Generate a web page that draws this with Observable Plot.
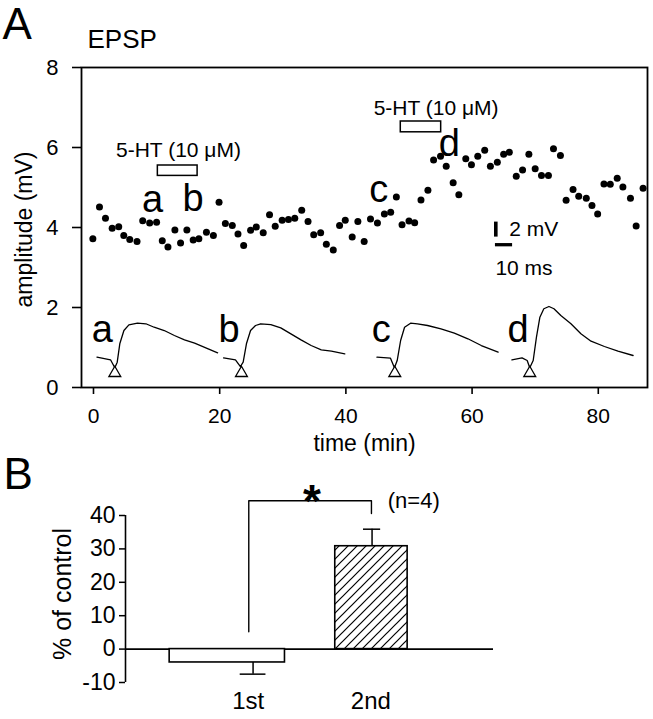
<!DOCTYPE html>
<html>
<head>
<meta charset="utf-8">
<script src="https://cdn.jsdelivr.net/npm/d3@7"></script>
<script src="https://cdn.jsdelivr.net/npm/@observablehq/plot@0.6"></script>
<style>
html, body { margin: 0; padding: 0; background: #fff; }
#chart { position: relative; width: 653px; height: 719px; overflow: hidden; background: #fff; }
#chart svg { display: block; overflow: visible; position: absolute; left: 0; }
</style>
</head>
<body>
<div id="chart"></div>
<script>
// ---------------- DATA ----------------
// Panel A: EPSP amplitude (mV) vs time (min)
const times = [-0.1, 0.95, 1.9, 2.96, 4.0, 4.8, 5.75, 6.9, 7.8, 8.9, 10.0, 10.9, 11.8, 12.9, 13.8, 14.8, 15.8, 16.7, 17.9, 19.0,
  19.9, 20.9, 22.0, 22.9, 23.8, 24.9, 25.8, 26.9, 27.9, 28.8, 29.9, 30.9, 31.9, 33.0, 34.0, 34.9, 36.0, 36.9, 38.0, 39.0,
  39.9, 41.0, 41.9, 42.9, 43.9, 45.0, 46.1, 47.1, 48.0, 48.9, 50.0, 50.9, 51.9, 53.0, 53.9, 55.0, 55.9, 57.0, 57.9, 59.0,
  59.9, 60.9, 62.0, 62.9, 64.0, 65.0, 65.9, 67.0, 68.0, 69.0, 70.0, 71.0, 72.1, 72.9, 74.0, 74.9, 76.0, 76.9, 78.1, 79.0,
  79.9, 80.9, 81.9, 83.0, 83.9, 85.1, 86.0, 87.1];
const amplitudes = [3.72, 4.51, 4.23, 3.98, 4.02, 3.80, 3.70, 3.65, 4.17, 4.11, 4.13, 3.67, 3.51, 3.94, 3.61, 3.94, 3.69, 3.72, 3.88, 3.80,
  4.63, 4.10, 4.05, 3.84, 3.55, 3.93, 4.01, 3.87, 4.32, 4.03, 4.18, 4.20, 4.23, 4.43, 4.15, 3.82, 3.87, 3.58, 3.44, 4.05,
  4.18, 3.76, 4.15, 3.65, 4.21, 4.11, 4.34, 4.38, 4.76, 4.07, 4.16, 4.12, 4.69, 4.93, 5.69, 5.78, 5.53, 5.12, 4.82, 5.72,
  5.57, 5.78, 5.93, 5.53, 5.63, 5.83, 5.88, 5.28, 5.44, 5.83, 5.47, 5.30, 5.30, 5.97, 5.80, 4.68, 4.95, 4.78, 4.73, 4.55,
  4.34, 5.09, 5.08, 5.23, 5.01, 4.73, 4.04, 4.98];
const xTicksA = [0, 20, 40, 60, 80];
const yTicksA = [0, 2, 4, 6, 8];
const drugName = "5-HT (10 \u03BCM)";
const drugStart = [10.2, 48.7];
const drugEnd = [16.5, 55.1];
const sampleIds = ["a", "b", "c", "d"];
const scaleBarMs = 10;
const scaleBarMv = 2;
const scaleBarLabels = ["2 mV", "10 ms"];
// Sample EPSP traces (ms from stimulus, mV from baseline)
const traceA_ms = [-10.4, -2.5, 0, 1.4, 2.9, 5.3, 8.2, 13.2, 18.1, 22.9, 28.8, 34.7, 40.6, 46.5, 54.4, 59.9];
const traceA_mv = [0.17, -0.17, -1.24, -0.49, 1.96, 3.73, 4.49, 4.71, 4.63, 4.17, 3.73, 3.07, 2.49, 2.04, 1.29, 0.76];
const traceB_ms = [-10.4, -3.5, -0.6, 1.0, 2.9, 5.3, 8.2, 11.2, 17.1, 22.9, 28.8, 34.7, 40.6, 46.5, 52.4, 60.2];
const traceB_mv = [0.09, -0.17, -1.07, -0.49, 1.96, 3.73, 4.40, 4.63, 4.53, 4.09, 3.29, 2.49, 1.73, 1.16, 0.97, 0.63];
const traceC_ms = [-10.4, -2.5, -0.2, 1.4, 3.4, 5.7, 9.2, 13.2, 19.1, 26.9, 34.7, 42.6, 50.4, 60.2];
const traceC_mv = [0.17, 0.04, -1.24, -0.27, 2.40, 4.17, 4.71, 4.63, 4.40, 3.96, 3.37, 2.63, 1.73, 0.84];
const traceD_ms = [-10.4, -4.5, -1.5, 0, 2.0, 3.9, 5.9, 8.2, 11.2, 14.1, 18.1, 24.0, 29.8, 35.7, 43.5, 51.4, 60.2];
const traceD_mv = [-0.17, 0.09, -0.27, -1.24, -0.27, 2.84, 5.51, 6.63, 6.93, 6.63, 5.73, 4.63, 3.29, 2.31, 1.60, 0.97, 0.40];

// Panel B: % of control
const groups = ["1st", "2nd"];
const pctMean = [-4.0, 30.8];
const pctSem = [3.5, 5.1];
const yTicksB = [-10, 0, 10, 20, 30, 40];
const sigMark = "*";
const nLabel = "(n=4)";

// ---------------- LAYOUT (positions / sizes / styles) ----------------
const FONT = "'Liberation Sans', Arial, Helvetica, sans-serif";
const LAY = {
  drugY: [[5.29, 5.55], [6.38, 6.65]],
  drugText: [[13.47, 5.93], [54.3, 6.99]],
  pointLetters: [[9.35, 4.40], [15.8, 4.42], [45.2, 4.63], [56.4, 5.80]],
  traceLetterX: [1.38, 21.5, 45.6, 67.3],
  traceLetterY: 1.13,
  stimAt: [3.38, 23.45, 47.75, 69.14],
  traceBase: 0.725,
  triangleY: 0.36,
  bar: { vx: 63.76, vy1: 3.76, hx1: 63.7, hy: 3.57, lenMin: 2.72, lenMv: 0.375 },
  barText: [[65.9, 3.95], [63.7, 2.98]],
  yLabelA: [-10.9, 3.95],
  // panel B
  catX: [1, 2],
  barX: [[0.36, 1.30], [1.71, 2.30]],
  errX: [1.04, 2.01],
  capHalf: [0.105, 0.07],
  barFill: ["white", "url(#hatchB)"],
  bracket: [[1.005, 5.2], [1.005, 44.4], [2.005, 44.4], [2.005, 40.6]],
  sig: [1.52, 44.0],
  n: [2.35, 44.3],
  yLabelB: [-0.51, 16.5]
};

// ---------------- PANEL A ----------------
const pts = times.map((t, i) => ({ t, amp: amplitudes[i] }));
const traceSets = [[traceA_ms, traceA_mv], [traceB_ms, traceB_mv], [traceC_ms, traceC_mv], [traceD_ms, traceD_mv]];
const minPerMs = LAY.bar.lenMin / scaleBarMs;
const chartPerMv = LAY.bar.lenMv / scaleBarMv;
const traceRows = traceSets.flatMap(([ms, mv], k) => ms.map((m, i) => ({
  id: sampleIds[k],
  t: LAY.stimAt[k] + m * minPerMs,
  amp: LAY.traceBase + mv[i] * chartPerMv
})));
const drugs = drugStart.map((s, i) => ({
  s, e: drugEnd[i], y1: LAY.drugY[i][0], y2: LAY.drugY[i][1], tx: LAY.drugText[i][0], ty: LAY.drugText[i][1]
}));

const svgA = Plot.plot({
  width: 653, height: 462,
  marginLeft: 81, marginRight: 6, marginTop: 67, marginBottom: 75,
  x: { domain: [-1.9, 87.8] },
  y: { domain: [0, 8] },
  style: { fontFamily: FONT, fontSize: "22px", color: "black", background: "transparent", overflow: "visible" },
  marks: [
    Plot.frame({ stroke: "black", strokeWidth: 1.8 }),
    Plot.axisY({ ticks: yTicksA, tickSize: 9, tickPadding: 14, strokeWidth: 1.6, label: null, fontSize: 22, tickFormat: d => String(d) }),
    Plot.axisX({ ticks: xTicksA, tickSize: 7, tickPadding: 14, strokeWidth: 1.6, label: null, fontSize: 21, tickFormat: d => String(d) }),
    Plot.dot(pts, { x: "t", y: "amp", r: 3.5, fill: "black" }),
    Plot.rect(drugs, { x1: "s", x2: "e", y1: "y1", y2: "y2", fill: "white", stroke: "black", strokeWidth: 1.5 }),
    Plot.text(drugs, { x: "tx", y: "ty", text: () => drugName, fontSize: 21 }),
    Plot.text(sampleIds, { x: (d, i) => LAY.pointLetters[i][0], y: (d, i) => LAY.pointLetters[i][1], text: d => d, fontSize: 38, lineAnchor: "bottom" }),
    Plot.line(traceRows, { x: "t", y: "amp", z: "id", stroke: "black", strokeWidth: 1.3 }),
    Plot.dot(sampleIds, { x: (d, i) => LAY.stimAt[i], y: () => LAY.triangleY, symbol: "triangle", r: 4.4, fill: "white", stroke: "black", strokeWidth: 1.3 }),
    Plot.text(sampleIds, { x: (d, i) => LAY.traceLetterX[i], y: () => LAY.traceLetterY, text: d => d, fontSize: 38, lineAnchor: "bottom" }),
    // scale bar
    Plot.ruleX([LAY.bar.vx], { y1: LAY.bar.vy1, y2: LAY.bar.vy1 + LAY.bar.lenMv, strokeWidth: 3.6, stroke: "black" }),
    Plot.ruleY([LAY.bar.hy], { x1: LAY.bar.hx1, x2: LAY.bar.hx1 + LAY.bar.lenMin, strokeWidth: 3.3, stroke: "black" }),
    Plot.text(scaleBarLabels, { x: (d, i) => LAY.barText[i][0], y: (d, i) => LAY.barText[i][1], text: d => d, textAnchor: "start", fontSize: 21 }),
    // titles & axis labels
    Plot.text(["A"], { frameAnchor: "top-left", dx: -79, dy: -29, text: d => d, textAnchor: "start", lineAnchor: "bottom", fontSize: 44 }),
    Plot.text(["EPSP"], { frameAnchor: "top-left", dx: 6, dy: -20, text: d => d, textAnchor: "start", lineAnchor: "bottom", fontSize: 26 }),
    Plot.text(["amplitude (mV)"], { x: () => LAY.yLabelA[0], y: () => LAY.yLabelA[1], text: d => d, rotate: -90, fontSize: 23 }),
    Plot.text(["time (min)"], { frameAnchor: "bottom", dy: 63, text: d => d, fontSize: 23 })
  ]
});
svgA.style.top = "0px";

// ---------------- PANEL B ----------------
const barsB = groups.map((g, i) => ({
  g, mean: pctMean[i], sem: pctSem[i],
  x1: LAY.barX[i][0], x2: LAY.barX[i][1], ex: LAY.errX[i], cap: LAY.capHalf[i], fill: LAY.barFill[i],
  end: pctMean[i] + Math.sign(pctMean[i]) * pctSem[i]
}));

const svgB = Plot.plot({
  width: 653, height: 257,
  marginLeft: 125, marginRight: 160, marginTop: 53, marginBottom: 37,
  x: { domain: [0, 3], axis: null },
  y: { domain: [-10, 40] },
  color: { type: "identity" },
  style: { fontFamily: FONT, fontSize: "23px", color: "black", background: "transparent", overflow: "visible" },
  marks: [
    Plot.axisY({ ticks: yTicksB, tickSize: 6, tickPadding: 4, strokeWidth: 1.5, label: null, fontSize: 23, tickFormat: d => String(d) }),
    Plot.ruleX([0], { y1: -10, y2: 40, stroke: "black", strokeWidth: 1.6 }),
    Plot.ruleY([0], { stroke: "black", strokeWidth: 1.6 }),
    Plot.ruleX(barsB, { x: "ex", y1: "mean", y2: "end", stroke: "black", strokeWidth: 1.5 }),
    Plot.ruleY(barsB, { y: "end", x1: d => d.ex - d.cap, x2: d => d.ex + d.cap, stroke: "black", strokeWidth: 1.5 }),
    Plot.rect(barsB, { x1: "x1", x2: "x2", y1: 0, y2: "mean", fill: "fill", stroke: "black", strokeWidth: 1.6 }),
    Plot.line(LAY.bracket, { x: d => d[0], y: d => d[1], stroke: "black", strokeWidth: 1.4 }),
    Plot.text([sigMark], { x: () => LAY.sig[0], y: () => LAY.sig[1], text: d => d, fontSize: 46, fontWeight: "bold" }),
    Plot.text([nLabel], { x: () => LAY.n[0], y: () => LAY.n[1], text: d => d, fontSize: 22 }),
    Plot.text(groups, { x: (d, i) => LAY.catX[i], frameAnchor: "bottom", dy: 26, text: d => d, fontSize: 24 }),
    Plot.text(["% of control"], { x: () => LAY.yLabelB[0], y: () => LAY.yLabelB[1], text: d => d, rotate: -90, fontSize: 25 }),
    Plot.text(["B"], { frameAnchor: "top-left", dx: -122, dy: -27, text: d => d, textAnchor: "start", lineAnchor: "bottom", fontSize: 44 })
  ]
});
svgB.style.top = "462px";

// hatch pattern for second bar
const defs = d3.select(svgB).insert("defs", ":first-child");
const pat = defs.append("pattern").attr("id", "hatchB").attr("patternUnits", "userSpaceOnUse")
  .attr("width", 9).attr("height", 9);
pat.append("rect").attr("width", 9).attr("height", 9).attr("fill", "white");
pat.append("path").attr("d", "M-2.25,2.25 L2.25,-2.25 M0,9 L9,0 M6.75,11.25 L11.25,6.75")
  .attr("stroke", "black").attr("stroke-width", 1.2);

const chart = document.getElementById("chart");
chart.appendChild(svgA);
chart.appendChild(svgB);
</script>
</body>
</html>
